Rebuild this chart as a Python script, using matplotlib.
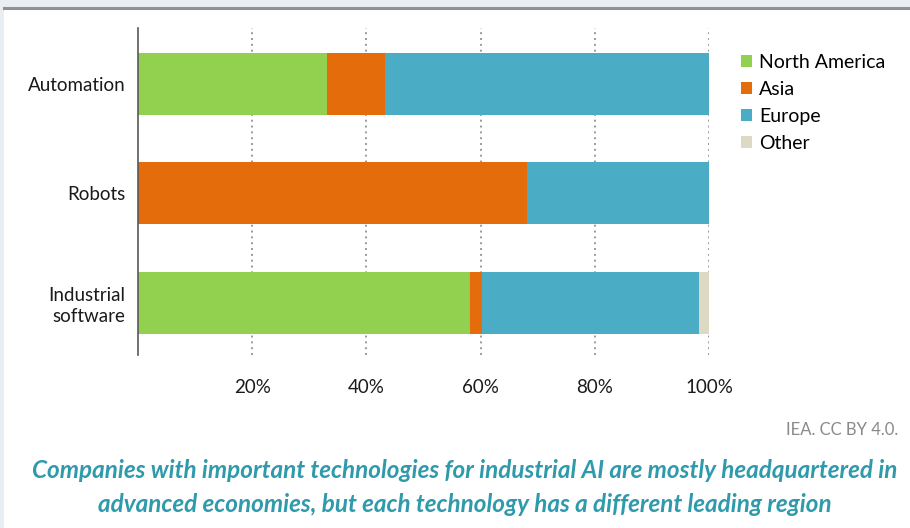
import matplotlib
matplotlib.use("Agg")
import matplotlib.pyplot as plt
from matplotlib.patches import Rectangle
from matplotlib.lines import Line2D

categories = ["Automation", "Robots", "Industrial\nsoftware"]
regions = ["North America", "Asia", "Europe", "Other"]
north_america = [33.1, 0.0, 58.1]
asia = [10.2, 68.1, 2.1]
europe = [56.7, 31.9, 38.1]
other = [0.0, 0.0, 1.7]
xticks = [20, 40, 60, 80, 100]
xtick_labels = ["20%", "40%", "60%", "80%", "100%"]
colors = ["#92d050", "#e46c0a", "#4bacc6", "#ddd9c3"]

W, H = 910, 528
fig = plt.figure(figsize=(W / 100, H / 100), dpi=100)
fig.patch.set_facecolor("#e9eef2")
fig.patches.append(Rectangle((4 / W, 0), 1, (H - 9) / H, transform=fig.transFigure,
                             facecolor="white", edgecolor="none", zorder=-5))
fig.lines.append(Line2D([4 / W, 1], [(H - 7.5) / H] * 2, transform=fig.transFigure,
                        color="#8e9195", lw=2.2, zorder=-4))

top_px, bot_px = 28, 355
ax = fig.add_axes([138 / W, (H - bot_px) / H, (709 - 138) / W, (bot_px - top_px) / H])
ax.set_facecolor("none")
ax.set_zorder(5)

series = [north_america, asia, europe, other]
ypos = list(range(len(categories)))
left = [0.0] * len(categories)
for vals, col, name in zip(series, colors, regions):
    ax.barh(ypos, vals, left=left, height=0.566, color=col, label=name, zorder=2,
            edgecolor="none")
    left = [l + v for l, v in zip(left, vals)]

ax.set_xlim(0, 100)
ax.set_ylim(2 + 0.475, -0.511)
for x in xticks:
    ax.axvline(x, color="#9a9a9a", lw=1.4, ls=(0, (1, 2)), zorder=1)
for s in ["top", "right", "bottom"]:
    ax.spines[s].set_visible(False)
ax.spines["left"].set_color("#595959")
ax.spines["left"].set_linewidth(1.2)

font = "Lato"
ax.set_xticks(xticks)
ax.set_xticklabels(xtick_labels, fontsize=13.5, family=font, color="#1a1a1a")
ax.set_yticks(ypos)
ax.set_yticklabels(categories, fontsize=13.5, family=font, color="#1a1a1a", linespacing=1.25)
ax.tick_params(axis="x", length=0, pad=17)
ax.tick_params(axis="y", length=0, pad=9)

leg = ax.legend(loc="upper left", bbox_to_anchor=(733 / W, (H - 46) / H),
                bbox_transform=fig.transFigure, frameon=False,
                prop={"family": font, "size": 14}, handlelength=0.6, handleheight=0.6,
                handletextpad=0.35, labelspacing=0.52, borderaxespad=0)

fig.text(898 / W, (H - 430) / H, "IEA. CC BY 4.0.", ha="right", va="center",
         fontsize=12, family=font, color="#8a8a8a")
fig.text(465 / W, (H - 470) / H,
         "Companies with important technologies for industrial AI are mostly headquartered in",
         ha="center", va="center", fontsize=17.5, family="Lato", style="italic",
         weight="bold", color="#2e9aab")
fig.text(465 / W, (H - 505) / H,
         "advanced economies, but each technology has a different leading region",
         ha="center", va="center", fontsize=17.5, family="Lato", style="italic",
         weight="bold", color="#2e9aab")

fig.savefig("out.png", dpi=100, facecolor=fig.get_facecolor())
